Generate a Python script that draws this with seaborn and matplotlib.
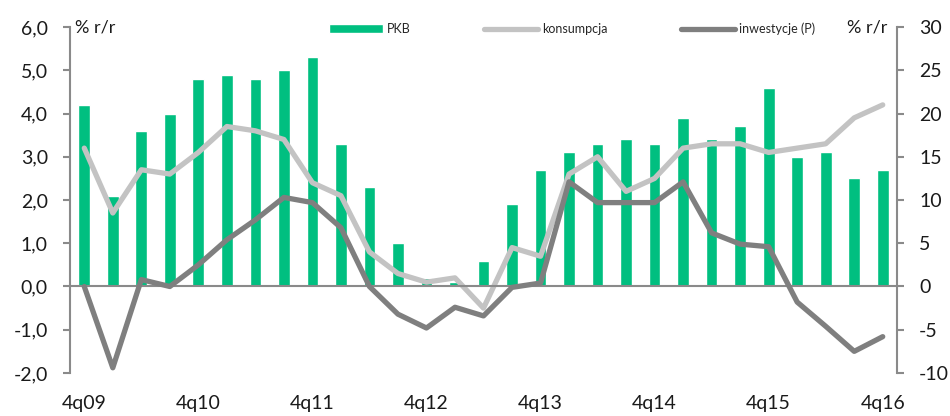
import matplotlib
matplotlib.use("Agg")
import matplotlib.pyplot as plt
import seaborn as sns
import pandas as pd
import numpy as np

# quarters 4q09 .. 4q16
quarters = ["4q09", "1q10", "2q10", "3q10", "4q10", "1q11", "2q11", "3q11", "4q11",
            "1q12", "2q12", "3q12", "4q12", "1q13", "2q13", "3q13", "4q13",
            "1q14", "2q14", "3q14", "4q14", "1q15", "2q15", "3q15", "4q15",
            "1q16", "2q16", "3q16", "4q16"]
pkb = [4.2, 2.1, 3.6, 4.0, 4.8, 4.9, 4.8, 5.0, 5.3, 3.3, 2.3, 1.0, 0.2, 0.1, 0.6,
       1.9, 2.7, 3.1, 3.3, 3.4, 3.3, 3.9, 3.4, 3.7, 4.6, 3.0, 3.1, 2.5, 2.7]
konsumpcja = [3.2, 1.7, 2.7, 2.6, 3.1, 3.7, 3.6, 3.4, 2.4, 2.1, 0.8, 0.3, 0.1, 0.2, -0.5,
              0.9, 0.7, 2.6, 3.0, 2.2, 2.5, 3.2, 3.3, 3.3, 3.1, 3.2, 3.3, 3.9, 4.2]
inwestycje = [0.0, -9.4, 0.8, 0.0, 2.5, 5.4, 7.7, 10.3, 9.7, 6.8, 0.0, -3.2, -4.8, -2.4, -3.4,
              -0.1, 0.4, 12.1, 9.7, 9.7, 9.7, 12.1, 6.2, 4.9, 4.6, -1.8, -4.6, -7.5, -5.8]
label_quarters = ["4q09", "4q10", "4q11", "4q12", "4q13", "4q14", "4q15", "4q16"]

df = pd.DataFrame({"q": quarters, "pos": np.arange(len(quarters)),
                   "pkb": pkb, "kons": konsumpcja, "inw": inwestycje})

sns.set_style("white")
plt.rcParams["font.family"] = ["Lato", "DejaVu Sans"]

green = "#00BF80"
light = "#C3C3C3"
dark = "#7F7F7F"
axis_col = "#8A8A8A"

fig = plt.figure(figsize=(9.5, 4.16), dpi=100)
ax = fig.add_axes([0.0737, 0.1034, 0.8705, 0.8316])

sns.barplot(data=df, x="pos", y="pkb", color=green, width=0.41, ax=ax,
            native_scale=True, label="PKB", saturation=1)
sns.lineplot(data=df, x="pos", y="kons", color=light, linewidth=3.8, ax=ax,
             label="konsumpcja", legend=False)
if ax.get_legend() is not None:
    ax.get_legend().remove()

ax2 = ax.twinx()
sns.lineplot(data=df, x="pos", y="inw", color=dark, linewidth=3.8, ax=ax2,
             label="inwestycje (P)", legend=False)

ax.set_xlim(-0.5, len(quarters) - 0.5)
ax.set_ylim(-2, 6)
ax2.set_ylim(-10, 30)
ax.set_xlabel("")
ax.set_ylabel("")
ax2.set_ylabel("")

ax.set_yticks(np.arange(-2, 7, 1))
ax.set_yticklabels([f"{v:.1f}".replace(".", ",") for v in np.arange(-2, 7, 1)])
ax2.set_yticks(np.arange(-10, 31, 5))
ax2.set_yticklabels([str(v) for v in np.arange(-10, 31, 5)])

# x axis sits on zero, labels stay at the bottom
label_pos = [quarters.index(q) for q in label_quarters]
ax.set_xticks(label_pos)
ax.set_xticklabels(label_quarters)
ax.set_xticks(np.arange(1.5, len(quarters) - 1, 2), minor=True)
ax.tick_params(axis="x", which="major", length=0, pad=78, labelsize=14, labelcolor="#1a1a1a")
ax.tick_params(axis="x", which="minor", length=5, width=1.5, color=axis_col, direction="out")
ax.tick_params(axis="y", length=5, width=1.5, color=axis_col, pad=11, labelsize=14,
               labelcolor="#1a1a1a", left=True)
ax2.tick_params(axis="y", length=5, width=1.5, color=axis_col, pad=11, labelsize=14,
                labelcolor="#1a1a1a", right=True)

for a in (ax, ax2):
    for s in a.spines.values():
        s.set_visible(False)
ax.spines["left"].set_visible(True)
ax.spines["left"].set_color(axis_col)
ax.spines["left"].set_linewidth(1.5)
ax.spines["bottom"].set_visible(True)
ax.spines["bottom"].set_position(("data", 0))
ax.spines["bottom"].set_color(axis_col)
ax.spines["bottom"].set_linewidth(1.5)
ax2.spines["right"].set_visible(True)
ax2.spines["right"].set_color(axis_col)
ax2.spines["right"].set_linewidth(1.5)

ax.text(0.006, 1.0, "% r/r", transform=ax.transAxes, ha="left", va="center",
        fontsize=13, color="#1a1a1a")
ax.text(0.988, 1.0, "% r/r", transform=ax.transAxes, ha="right", va="center",
        fontsize=13, color="#1a1a1a")

h1, l1 = ax.get_legend_handles_labels()
h2, l2 = ax2.get_legend_handles_labels()
handles = dict(zip(l1 + l2, h1 + h2))
order = ["PKB", "konsumpcja", "inwestycje (P)"]
ax2.legend([handles[k] for k in order], order, loc="center", bbox_to_anchor=(0.607, 0.995),
           ncol=3, frameon=False, fontsize=9, handlelength=4.3, columnspacing=5.9,
           handletextpad=0.3)

fig.savefig("out.png", dpi=100)
